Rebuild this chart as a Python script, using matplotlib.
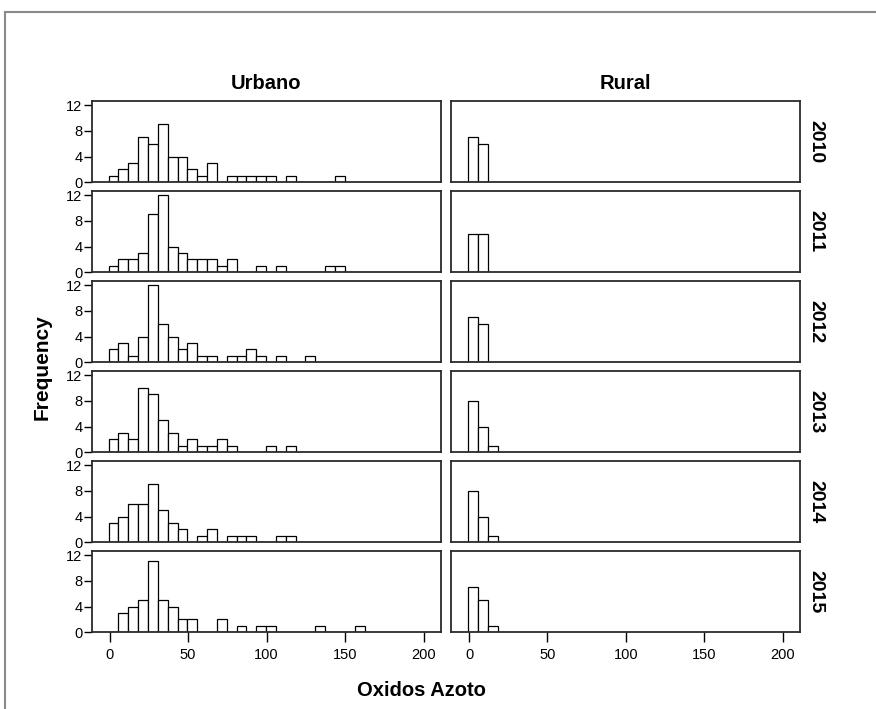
"""Histograms of Oxidos Azoto by area (Urbano / Rural) and year, SPSS-style panel grid."""
import matplotlib

matplotlib.use("Agg")
import matplotlib.pyplot as plt
from matplotlib.lines import Line2D

plt.rcParams.update({"font.family": ["Liberation Sans", "DejaVu Sans"], "font.size": 10})

YEARS = ["2010", "2011", "2012", "2013", "2014", "2015"]
AREAS = ["Urbano", "Rural"]

# histogram bins: first edge and width in data units
BIN_START = -0.6
BIN_WIDTH = 6.27

# counts per bin, bin 0 starting at BIN_START
URBANO = {
    "2010": [1, 2, 3, 7, 6, 9, 4, 4, 2, 1, 3, 0, 1, 1, 1, 1, 1, 0, 1, 0, 0, 0, 0, 1],
    "2011": [1, 2, 2, 3, 9, 12, 4, 3, 2, 2, 2, 1, 2, 0, 0, 1, 0, 1, 0, 0, 0, 0, 1, 1],
    "2012": [2, 3, 1, 4, 12, 6, 4, 2, 3, 1, 1, 0, 1, 1, 2, 1, 0, 1, 0, 0, 1],
    "2013": [2, 3, 2, 10, 9, 5, 3, 1, 2, 1, 1, 2, 1, 0, 0, 0, 1, 0, 1],
    "2014": [3, 4, 6, 6, 9, 5, 3, 2, 0, 1, 2, 0, 1, 1, 1, 0, 0, 1, 1],
    "2015": [0, 3, 4, 5, 11, 5, 4, 2, 2, 0, 0, 2, 0, 1, 0, 1, 1, 0, 0, 0, 0, 1, 0, 0, 0, 1],
}
RURAL = {
    "2010": [7, 6],
    "2011": [6, 6],
    "2012": [7, 6],
    "2013": [8, 4, 1],
    "2014": [8, 4, 1],
    "2015": [7, 5, 1],
}

Y_TICKS = [0, 4, 8, 12]
X_TICKS = [0, 50, 100, 150, 200]

W, H = 876, 709
fig = plt.figure(figsize=(W / 100, H / 100), dpi=100)


def px_axes(left, top, right, bottom):
    return fig.add_axes([left / W, 1 - bottom / H, (right - left) / W, (bottom - top) / H])


# outer frame
frame = dict(color="#8a8a8a", lw=1.5, transform=fig.transFigure)
fig.add_artist(Line2D([5 / W, 1], [1 - 12 / H, 1 - 12 / H], **frame))
fig.add_artist(Line2D([5 / W, 5 / W], [1 - 12 / H, 0], **frame))

col_x = [(91.5, 440.5), (451, 799.5)]
for r, year in enumerate(YEARS):
    top = 100.7 + 90 * r
    bottom = 182.3 + 90 * r
    for c, area in enumerate(AREAS):
        ax = px_axes(col_x[c][0], top, col_x[c][1], bottom)
        counts = URBANO[year] if area == "Urbano" else RURAL[year]
        centers = [BIN_START + BIN_WIDTH * (i + 0.5) for i in range(len(counts))]
        ax.bar(centers, counts, width=BIN_WIDTH, color="white", edgecolor="black", lw=0.9)
        ax.set_xlim(-11.5, 210.8)
        ax.set_ylim(0, 12.67)
        for s in ax.spines.values():
            s.set_color("#2b2b2b")
            s.set_linewidth(1.3)
        if c == 0:
            ax.set_yticks(Y_TICKS)
            ax.tick_params(axis="y", length=6, width=1, pad=0.5, labelsize=10.5)
        else:
            ax.set_yticks([])
            ax.text(1.048, 0.5, year, transform=ax.transAxes, rotation=-90,
                    ha="center", va="center", fontsize=14, fontweight="bold")
        if r == len(YEARS) - 1:
            ax.set_xticks(X_TICKS)
            ax.tick_params(axis="x", length=7.5, width=1, pad=4, labelsize=10.5)
        else:
            ax.set_xticks([])
        if r == 0:
            fig.text((col_x[c][0] + col_x[c][1]) / 2 / W, 1 - 83.5 / H, area,
                     ha="center", va="center", fontsize=14.5, fontweight="bold")

fig.text(42 / W, 1 - 367 / H, "Frequency", rotation=90, ha="center", va="center",
         fontsize=15, fontweight="bold")
fig.text(421 / W, 1 - 691 / H, "Oxidos Azoto", ha="center", va="center",
         fontsize=14.5, fontweight="bold")

fig.savefig("out.png", dpi=100)
